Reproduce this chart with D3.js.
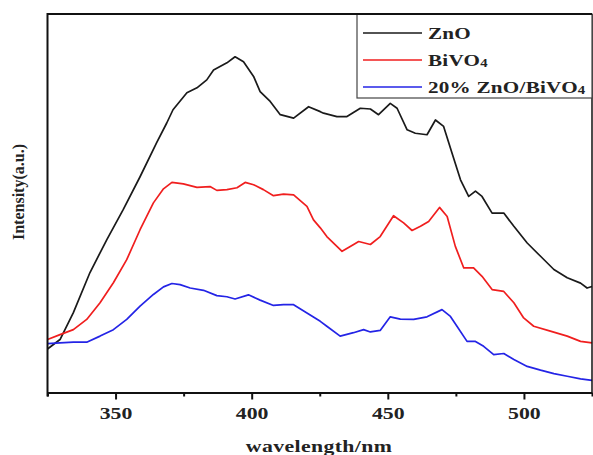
<!DOCTYPE html>
<html>
<head>
<meta charset="utf-8">
<script src="https://cdn.jsdelivr.net/npm/d3@7"></script>
<style>
    body { margin: 0; background: #fff; }
    svg { display: block; font-family: "Liberation Serif", "Times New Roman", serif; font-weight: bold; }
</style>
</head>
<body>
<svg width="593" height="455"></svg>
<script>
// wavelength (nm) and intensity (a.u.) for each sample
const znoWave = [325, 329.6, 334.5, 340.6, 346.8, 352.8, 359, 365.1, 368.8, 371.1, 376.2, 379.9, 383.5, 386,
    390.9, 393.9, 397, 400.7, 403.1, 406.8, 410.5, 415.4, 420.9, 425.2, 426.4, 431.3, 435, 439.9, 443.6, 446.6,
    450.9, 453.4, 457.1, 460.1, 464.4, 467.5, 470.5, 473.6, 476.7, 479.7, 482.2, 484.6, 488.3, 492.6, 496.3,
    501.2, 506.1, 511, 515.9, 520.8, 523.2, 525];
const znoVal = [11.5, 14, 21.1, 31.7, 40.4, 48.3, 57, 66, 71.2, 74.7, 79.2, 80.5, 82.6, 85.2,
    87.1, 88.7, 87.4, 83.5, 79.5, 76.9, 73.4, 72.5, 75.5, 74.2, 73.8, 72.9, 72.9, 75.1, 74.9, 73.4,
    76.4, 75.1, 69.4, 68.5, 68.1, 72, 70.3, 63.2, 56.2, 51.8, 53.2, 51.8, 47.4, 47.4, 43.9,
    39.5, 36, 32.5, 30.3, 28.9, 27.6, 28];

const bivWave = [325, 329.6, 334.5, 339.4, 344.3, 349.2, 354.1, 359, 363.9, 367.6, 370.7, 374.9, 379.9, 384.7,
    387.2, 390.9, 394.6, 397.6, 400.7, 404.3, 408, 411.7, 415.4, 420.3, 422.7, 425.2, 427.6, 433.2, 436.2,
    439.3, 443.6, 447.2, 452.1, 455.8, 458.9, 462, 465, 469, 471.8, 474.8, 477.9, 481.5, 484.6, 488.3, 492.6,
    496.3, 499.9, 503.6, 509.7, 515.9, 520.8, 525];
const bivVal = [14, 15.3, 16.6, 19.3, 23.7, 29, 35.1, 43, 50.1, 53.8, 55.5, 55.1, 54.2, 54.4,
    53.4, 53.6, 54.1, 55.5, 54.9, 53.6, 52, 52.4, 52.2, 49.2, 45.6, 43.5, 41.2, 37.3, 38.6,
    39.9, 39.1, 41.2, 46.7, 44.8, 42.8, 43.9, 45.2, 48.9, 46.5, 38.6, 32.9, 32.9, 30.7, 27.2, 26.7,
    23.7, 19.7, 17.5, 16.2, 14.9, 13.5, 13.1];

const compWave = [325, 329.6, 334.5, 339.4, 344.3, 349.2, 354.1, 359, 363.9, 367.6, 370.7, 373.7, 377.4, 382.3,
    387.2, 390.9, 393.9, 398.8, 403.1, 408, 411.7, 415.4, 420.3, 425.2, 427.6, 432.5, 437.4, 441.1, 443.6,
    447.2, 450.9, 454.6, 459.5, 464.4, 469.9, 473, 475.4, 479.1, 482.2, 485.2, 488.9, 492.6, 496.3, 501.2,
    506.1, 511, 515.9, 520.8, 525];
const compVal = [12.9, 13.1, 13.3, 13.3, 14.9, 16.6, 19.3, 22.8, 25.9, 27.9, 28.8, 28.5, 27.6, 27,
    25.6, 25.3, 24.7, 25.8, 24.4, 23, 23.2, 23.2, 21, 18.8, 17.5, 14.9, 15.8, 16.6, 16,
    16.4, 20, 19.4, 19.3, 20, 21.9, 20.1, 17.5, 13.5, 13.5, 12.2, 10, 10.3, 8.7, 6.9,
    5.9, 5, 4.3, 3.6, 3.2];

const seriesNames = ["ZnO", "BiVO4", "20% ZnO/BiVO4"];
const seriesColors = ["#1a1a1a", "#f01e1e", "#2424e6"];
const xTicks = [350, 400, 450, 500];
const xMinorTicks = [325, 375, 425, 475, 525];

const svg = d3.select("svg");
const plotLeft = 47.5, plotRight = 592, plotTop = 14, plotBottom = 392.5;
const stretch = 1.28;   // the original figure's lettering is drawn wide

const x = d3.scaleLinear().domain([325, 525]).range([plotLeft, plotRight]);
const y = d3.scaleLinear().domain([0, 100]).range([plotBottom, plotTop]);

const series = [
    { wave: znoWave, val: znoVal },
    { wave: bivWave, val: bivVal },
    { wave: compWave, val: compVal }
];

const line = d3.line()
    .x(d => x(d[0]))
    .y(d => y(d[1]));

// Curves
series.forEach((s, i) => {
    svg.append("path")
        .datum(s.wave.map((w, k) => [w, s.val[k]]))
        .attr("fill", "none")
        .attr("stroke", seriesColors[i])
        .attr("stroke-width", 1.7)
        .attr("stroke-linejoin", "round")
        .attr("d", line);
});

// Frame: right edge
svg.append("line").attr("x1", plotRight).attr("x2", plotRight).attr("y1", plotTop).attr("y2", plotBottom)
    .attr("stroke", "#111").attr("stroke-width", 1.5);

// Left axis without ticks
svg.append("line").attr("x1", plotLeft).attr("x2", plotLeft).attr("y1", plotTop - 1).attr("y2", plotBottom + 4)
    .attr("stroke", "#111").attr("stroke-width", 2);

// Bottom axis, minor ticks first then major ticks with labels
const minorAxis = d3.axisBottom(x).tickValues(xMinorTicks).tickSize(4).tickFormat("");
svg.append("g")
    .attr("transform", `translate(0,${plotBottom})`)
    .call(minorAxis)
    .call(g => g.select(".domain").remove())
    .call(g => g.selectAll("line").attr("stroke", "#111").attr("stroke-width", 2));

const xAxis = d3.axisBottom(x).tickValues(xTicks).tickSize(7).tickPadding(7).tickSizeOuter(0);
svg.append("g")
    .attr("transform", `translate(0,${plotBottom})`)
    .call(xAxis)
    .call(g => g.select(".domain").attr("stroke", "#111").attr("stroke-width", 2))
    .call(g => g.selectAll("line").attr("stroke", "#111").attr("stroke-width", 2))
    .call(g => g.selectAll("text")
        .attr("font-family", "Liberation Serif, Times New Roman, serif")
        .attr("font-weight", "bold")
        .attr("font-size", 17)
        .attr("transform", `scale(${stretch},1)`)
        .attr("fill", "#222"));

// Axis titles
svg.append("text")
    .attr("transform", `translate(319,452) scale(${stretch},1)`)
    .attr("text-anchor", "middle")
    .attr("font-size", 17)
    .attr("letter-spacing", 0.3)
    .attr("fill", "#222")
    .text("wavelength/nm");

svg.append("text")
    .attr("transform", "translate(24,192) rotate(-90)")
    .attr("text-anchor", "middle")
    .attr("font-size", 16)
    .attr("fill", "#222")
    .text("Intensity(a.u.)");

// Legend
const legend = svg.append("g");
legend.append("rect")
    .attr("x", 357).attr("y", plotTop)
    .attr("width", plotRight - 357).attr("height", 84)
    .attr("fill", "#fff")
    .attr("stroke", "#444").attr("stroke-width", 1.2);

seriesNames.forEach((name, i) => {
    const ly = 33 + i * 27;
    legend.append("line")
        .attr("x1", 363).attr("x2", 422)
        .attr("y1", ly).attr("y2", ly)
        .attr("stroke", seriesColors[i]).attr("stroke-width", 1.6);
    const t = legend.append("text")
        .attr("transform", `translate(428,${ly + 6}) scale(${stretch},1)`)
        .attr("font-size", 16.5)
        .attr("letter-spacing", 0.2)
        .attr("fill", "#222");
    // the trailing "4" of BiVO4 sits a little low and small
    if (name.endsWith("4")) {
        t.append("tspan").text(name.slice(0, -1));
        t.append("tspan").attr("font-size", 11.5).attr("dy", 1).text("4");
    } else {
        t.text(name);
    }
});

// Top frame line, drawn over the legend box
svg.append("line").attr("x1", plotLeft).attr("x2", plotRight).attr("y1", plotTop).attr("y2", plotTop)
    .attr("stroke", "#111").attr("stroke-width", 2);
</script>
</body>
</html>
